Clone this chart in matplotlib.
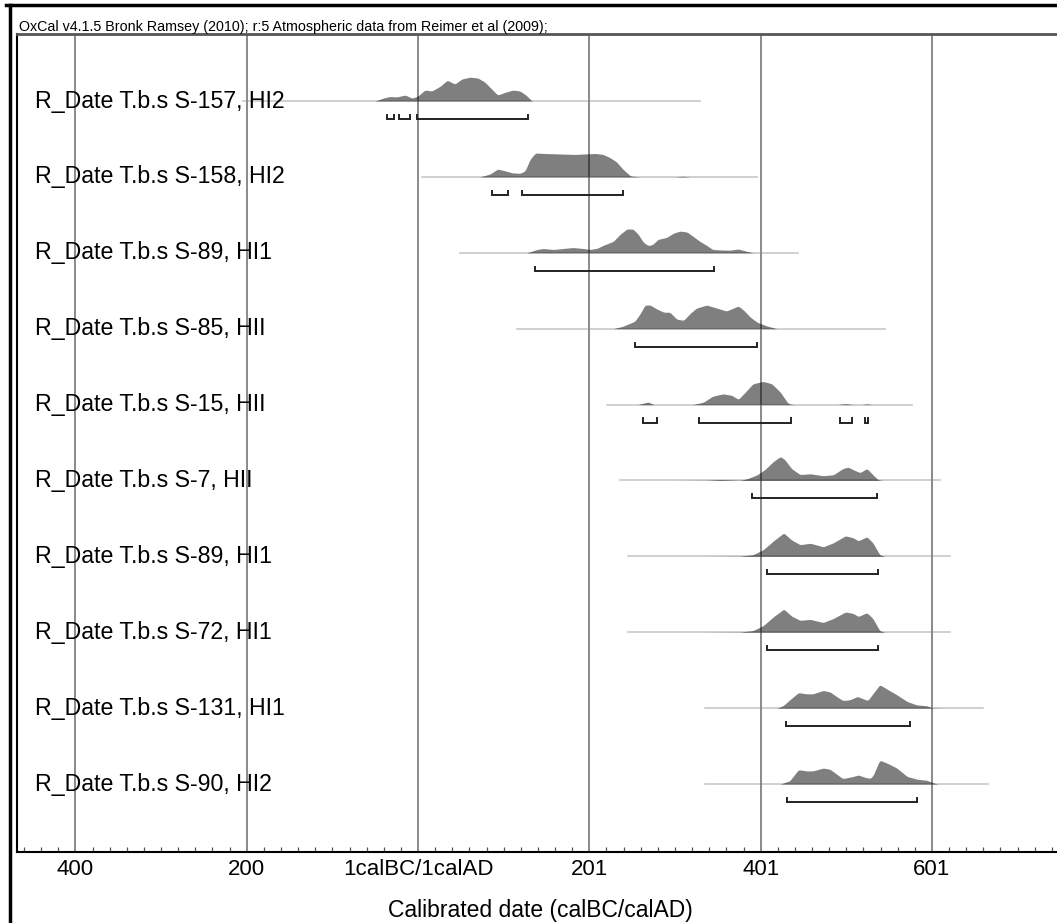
# -*- coding: utf-8 -*-
import numpy as np
import matplotlib
matplotlib.use('Agg')
import matplotlib.pyplot as plt
from matplotlib.lines import Line2D

plt.rcParams['font.family'] = ['Liberation Sans', 'DejaVu Sans']

# 样本名称
labels = ['R_Date T.b.s S-157, HI2', 'R_Date T.b.s S-158, HI2', 'R_Date T.b.s S-89, HI1',
          'R_Date T.b.s S-85, HII', 'R_Date T.b.s S-15, HII', 'R_Date T.b.s S-7, HII',
          'R_Date T.b.s S-89, HI1', 'R_Date T.b.s S-72, HI1', 'R_Date T.b.s S-131, HI1',
          'R_Date T.b.s S-90, HI2']

# 概率分布（年份, 相对高度）
dens_years = [
    [-50, -41, -33, -25, -15, -7, 0, 8, 16, 26, 34, 43, 51, 61, 70, 78, 86, 93, 102, 111, 119, 126, 133],
    [72, 84, 93, 102, 110, 119, 125, 131, 137, 148, 166, 183, 195, 207, 216, 224, 232, 239, 248, 259, 300, 309, 318],
    [127, 139, 146, 158, 169, 181, 193, 201, 209, 216, 228, 236, 244, 251, 257, 263, 269, 274, 280, 290, 298,
     306, 314, 321, 329, 337, 344, 353, 364, 374, 382, 391],
    [228, 239, 253, 259, 265, 271, 279, 287, 294, 302, 310, 318, 325, 337, 349, 360, 368, 374, 380, 388, 396, 407, 419],
    [257, 263, 269, 275, 321, 333, 344, 356, 366, 374, 382, 391, 403, 413, 423, 432, 438, 490, 499, 508, 518, 524, 530],
    [300, 337, 353, 376, 384, 396, 405, 415, 423, 428, 436, 446, 458, 473, 485, 496, 502, 510, 516, 524, 530, 537, 543],
    [330, 376, 391, 403, 415, 427, 436, 446, 458, 473, 485, 499, 508, 514, 524, 531, 539, 545],
    [330, 376, 391, 403, 415, 427, 436, 446, 458, 473, 485, 499, 508, 514, 524, 531, 539, 545],
    [419, 426, 434, 444, 454, 461, 473, 481, 489, 496, 504, 513, 520, 525, 531, 539, 547, 559, 571, 582, 594, 601, 615],
    [423, 434, 444, 454, 461, 473, 481, 490, 496, 507, 514, 522, 528, 531, 539, 548, 559, 571, 583, 594, 601, 607],
]
dens_heights = [
    [0, 0.12, 0.19, 0.17, 0.25, 0.12, 0.21, 0.46, 0.42, 0.62, 0.87, 0.71, 0.92, 1.0, 0.96, 0.79, 0.5, 0.25, 0.37,
     0.46, 0.42, 0.25, 0],
    [0, 0.12, 0.33, 0.25, 0.17, 0.15, 0.25, 0.75, 1.0, 0.98, 0.96, 0.94, 0.96, 0.98, 0.94, 0.81, 0.62, 0.33, 0.04,
     0, 0, 0.03, 0],
    [0, 0.14, 0.18, 0.14, 0.18, 0.22, 0.18, 0.14, 0.19, 0.31, 0.48, 0.78, 1.0, 0.99, 0.78, 0.44, 0.30, 0.35, 0.56,
     0.64, 0.82, 0.91, 0.87, 0.69, 0.48, 0.31, 0.14, 0.12, 0.11, 0.16, 0.08, 0],
    [0, 0.10, 0.31, 0.61, 0.99, 0.99, 0.82, 0.69, 0.69, 0.40, 0.35, 0.65, 0.86, 0.99, 0.86, 0.74, 0.86, 0.95, 0.78,
     0.48, 0.27, 0.12, 0],
    [0, 0.06, 0.11, 0, 0, 0.1, 0.35, 0.45, 0.39, 0.22, 0.52, 0.87, 0.97, 0.87, 0.52, 0.05, 0, 0, 0.04, 0, 0, 0.03, 0],
    [0, 0.01, 0.04, 0.01, 0.07, 0.24, 0.46, 0.80, 1.0, 0.88, 0.50, 0.25, 0.28, 0.20, 0.24, 0.50, 0.56, 0.42, 0.33,
     0.50, 0.28, 0.03, 0],
    [0, 0.01, 0.07, 0.28, 0.65, 0.98, 0.69, 0.49, 0.55, 0.40, 0.57, 0.86, 0.78, 0.65, 0.82, 0.57, 0.07, 0],
    [0, 0.01, 0.07, 0.28, 0.65, 0.97, 0.68, 0.50, 0.54, 0.41, 0.58, 0.85, 0.79, 0.66, 0.82, 0.58, 0.07, 0],
    [0, 0.10, 0.35, 0.65, 0.60, 0.60, 0.74, 0.68, 0.48, 0.32, 0.35, 0.49, 0.39, 0.32, 0.60, 0.98, 0.81, 0.56, 0.28,
     0.14, 0.10, 0.01, 0],
    [0, 0.14, 0.60, 0.55, 0.55, 0.67, 0.62, 0.38, 0.23, 0.31, 0.38, 0.28, 0.24, 0.34, 1.0, 0.87, 0.67, 0.32, 0.2,
     0.16, 0.06, 0],
]

# 95.4% 区间
ranges = [
    [[-36, -28], [-22, -9], [-1, 128]],
    [[86, 105], [121, 239]],
    [[137, 346]],
    [[253, 396]],
    [[263, 279], [328, 435], [493, 507], [522, 525]],
    [[390, 536]],
    [[407, 537]],
    [[407, 537]],
    [[430, 574]],
    [[431, 583]],
]

# 每行基线范围
line_spans = [[-204, 329], [5, 396], [49, 444], [116, 545], [221, 577],
              [236, 609], [245, 621], [245, 621], [335, 660], [335, 665]]

tick_pos = [-400, -200, 0, 200, 400, 600]
tick_labels = ['400', '200', '1calBC/1calAD', '201', '401', '601']

W, H = 1057, 923
fig = plt.figure(figsize=(W / 100, H / 100), dpi=100)
ax = fig.add_axes([17 / W, 1 - 852 / H, (1075 - 17) / W, (852 - 34) / H])

peak = 0.315
bar_off = 0.237
tick_h = 0.055

for i in range(len(labels)):
    ax.plot(line_spans[i], [i, i], color='#c4c4c4', lw=1.1, zorder=1)
    xs = np.arange(dens_years[i][0], dens_years[i][-1] + 0.5, 0.5)
    hs = np.interp(xs, dens_years[i], dens_heights[i])
    k = np.ones(7) / 7
    hs = np.convolve(hs, k, mode='same')
    ax.fill_between(xs, i, i - hs * peak, color='black', alpha=0.5, lw=0, zorder=3)
    for a, b in ranges[i]:
        yb = i + bar_off
        ax.plot([a, a, b, b], [yb - tick_h, yb, yb, yb - tick_h], color='#222222', lw=1.4,
                solid_joinstyle='miter', zorder=4)
    ax.text(-447, i, labels[i], fontsize=16.7, va='center', ha='left', zorder=5)

for t in tick_pos:
    ax.axvline(t, color='#8a8a8a', lw=1.4, zorder=2)

ax.set_xlim(-468.2, 767)
ax.set_ylim(9.895, -0.883)
ax.set_yticks([])
ax.set_xticks(tick_pos)
ax.set_xticklabels(tick_labels, fontsize=16)
ax.set_xticks(np.arange(-460, 761, 20), minor=True)
ax.tick_params(axis='x', which='major', length=0, pad=5)
ax.tick_params(axis='x', which='minor', direction='in', length=3.5, width=0.9, color='#555555')
for s in ['left', 'bottom']:
    ax.spines[s].set_color('black')
    ax.spines[s].set_linewidth(1.5)
ax.spines['top'].set_color('#555555')
ax.spines['top'].set_linewidth(2)

fig.text(19 / W, 1 - 27 / H,
         'OxCal v4.1.5 Bronk Ramsey (2010); r:5 Atmospheric data from Reimer et al (2009);',
         fontsize=10.3, va='center', ha='left')
fig.text(540 / W, 1 - 911 / H, 'Calibrated date (calBC/calAD)', fontsize=16.5, va='center', ha='center')

# 外框
fig.add_artist(Line2D([6 / W, 1], [1 - 5 / H, 1 - 5 / H], color='black', lw=2.5))
fig.add_artist(Line2D([9.5 / W, 9.5 / W], [0, 1 - 5 / H], color='black', lw=2.5))

fig.savefig('out.png', dpi=100)
